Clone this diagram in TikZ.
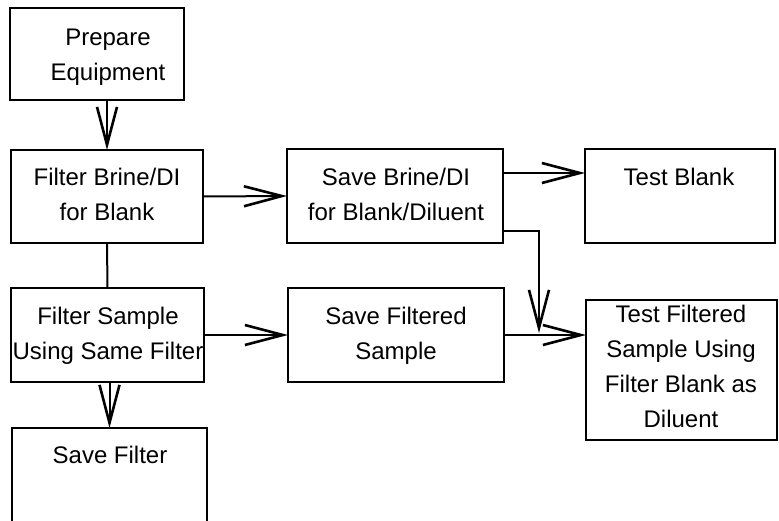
\documentclass[tikz,border=0pt]{standalone}
\usepackage{fontspec}
\setmainfont{Liberation Sans}
\usetikzlibrary{arrows.meta}
\begin{document}
\begin{tikzpicture}[x=1pt,y=-1pt,
  box/.style={draw, line width=2pt, rectangle, inner sep=0pt, outer sep=0pt, anchor=north west},
  txt/.style={align=center, inner sep=0pt, anchor=base, font=\fontsize{24}{35}\selectfont},
  conn/.style={line width=2pt},
  arr/.style={line width=2pt, -{Straight Barb[length=38pt, width=20pt, line width=2.6pt]}}]
\useasboundingbox (0,0) rectangle (779,520);
\clip (0,0) rectangle (779,520);
% boxes
\node[box, minimum width=174pt, minimum height=92pt] (b1) at (10,8) {};
\node[box, minimum width=192pt, minimum height=93pt] (b2) at (11,150) {};
\node[box, minimum width=193pt, minimum height=94pt] (b3) at (11,288) {};
\node[box, minimum width=195pt, minimum height=110pt] (b4) at (12,428) {};
\node[box, minimum width=216pt, minimum height=94pt] (b5) at (287,149) {};
\node[box, minimum width=190pt, minimum height=94pt] (b6) at (585,149) {};
\node[box, minimum width=216pt, minimum height=94pt] (b8) at (288,288) {};
\node[box, minimum width=191pt, minimum height=140pt] (b7) at (586,300) {};
% texts (anchored at the baseline of the last line)
\node[txt] (t1) at (108,80) {Prepare\\Equipment};
\node[txt] (t2) at (107,220) {Filter Brine/DI\\for Blank};
\node[txt] (t3) at (108,359) {Filter Sample\\Using Same Filter};
\node[txt] (t4) at (110,463) {Save Filter};
\node[txt] (t5) at (396,220) {Save Brine/DI\\for Blank/Diluent};
\node[txt] (t6) at (679,185) {Test Blank};
\node[txt] (t8) at (396,359) {Save Filtered\\Sample};
\node[txt] (t7) at (681,427) {Test Filtered\\Sample Using\\Filter Blank as\\Diluent};
% connectors
\coordinate (m) at (539,333);
\draw[arr] (b1.south -| b2.north) -- (b2.north);
\draw[conn] (b2.south) -- (b3.north);
\draw[arr] (b3.south -| b4.north) -- (b4.north);
\draw[arr] (b2.east) -- (b5.west);
\draw[arr] ([yshift=23pt]b5.east) -- ([yshift=23pt]b5.east -| b6.west);
\draw[arr] ([yshift=-35pt]b5.east) -| (m);
\draw[arr] (b3.east) -- (b3.east -| b8.west);
\draw[arr] (b8.east) -- (b8.east -| b7.west);
\end{tikzpicture}
\end{document}
